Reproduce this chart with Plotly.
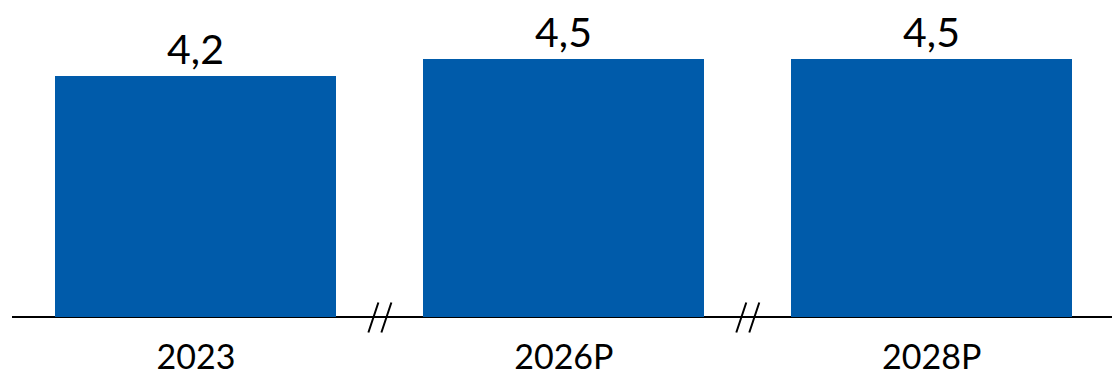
import plotly.graph_objects as go

categories = ["2023", "2026P", "2028P"]
values = [4.2, 4.5, 4.5]
break_positions = [0.5, 1.5]

bar_color = "#005BAA"
font_family = "Lato, 'Open Sans', sans-serif"

fig = go.Figure()
fig.add_trace(go.Bar(
    x=list(range(len(categories))),
    y=values,
    width=0.764,
    marker=dict(color=bar_color, line=dict(width=0)),
    text=values,
    texttemplate="%{y:.1f}",
    textposition="outside",
    textfont=dict(size=41, color="black", family=font_family),
    cliponaxis=False,
))

shapes = []
for bp in break_positions:
    for dx in (-13, 0):
        shapes.append(dict(
            type="line", xref="x", yref="y",
            xsizemode="pixel", xanchor=bp,
            ysizemode="pixel", yanchor=0,
            x0=dx + 1.5, x1=dx + 11.5, y0=-15, y1=15,
            line=dict(color="black", width=2),
        ))

fig.update_layout(
    width=1112, height=376,
    margin=dict(l=12, r=0, t=0, b=42, autoexpand=False),
    paper_bgcolor="white", plot_bgcolor="white",
    separators=", ",
    showlegend=False,
    bargap=0,
    shapes=shapes,
    xaxis=dict(
        range=[-0.5, 2.49],
        tickmode="array",
        tickvals=list(range(len(categories))),
        ticktext=categories,
        tickfont=dict(size=34, color="black", family=font_family),
        showline=False, ticks="",
        showgrid=False, zeroline=False,
        automargin=False,
    ),
    yaxis=dict(
        range=[-0.287, 5.517],
        showticklabels=False, ticks="",
        showgrid=False,
        zeroline=True, zerolinecolor="black", zerolinewidth=2,
        automargin=False,
    ),
)

fig.write_html("out.html")
